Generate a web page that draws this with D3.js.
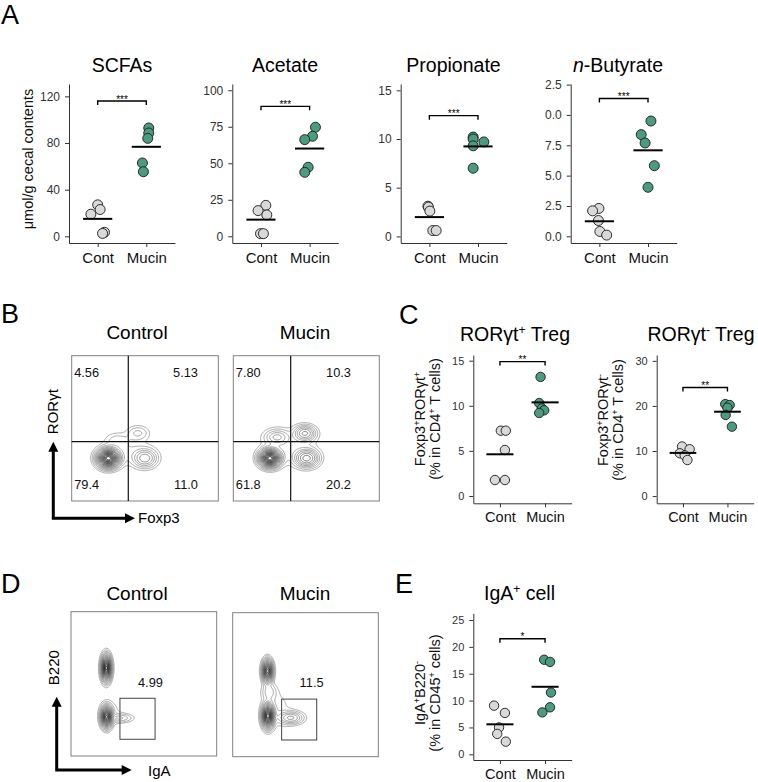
<!DOCTYPE html>
<html><head><meta charset="utf-8">
<script src="https://cdn.jsdelivr.net/npm/d3@7"></script>
<style>
body{margin:0;background:#fff}
svg{display:block}
text{font-family:"Liberation Sans",Arial,Helvetica,sans-serif}
</style>
</head><body>
<svg id="fig" width="758" height="782"></svg>
<script>
// ---------------- DATA ----------------
const groups = ["Cont", "Mucin"];

// Panel A (µmol/g cecal contents)
const scfaCont = [27, 23, 19, 3.5, 2.5];
const scfaMucin = [92.9, 88.6, 84, 62.9, 55.4];
const acetateCont = [21.2, 17.6, 14.6, 1.8, 1.8];
const acetateMucin = [74.7, 68.5, 66.2, 47.3, 43.8];
const propionateCont = [3.1, 3.0, 2.6, 0.6, 0.6];
const propionateMucin = [10.2, 10.0, 9.7, 9.3, 7.0];
const butyrateCont = [2.3, 2.1, 1.3, 0.4, 0.1];
const butyrateMucin = [9.5, 8.38, 7.69, 5.82, 4.04];

// Panel C (% in CD4+ T cells)
const rorPosCont = [7.24, 7.24, 5.1, 1.77, 1.77];
const rorPosMucin = [13.2, 10.3, 9.7, 9.5, 9.2];
const rorNegCont = [11.0, 10.4, 9.5, 9.0, 8.0];
const rorNegMucin = [20.4, 20.2, 19.6, 18.0, 15.4];

// Panel E (% in CD45+ cells)
const igaCont = [9.06, 7.7, 5.0, 3.8, 2.36];
const igaMucin = [17.6, 17.2, 11.5, 8.75, 7.8];

// horizontal jitter of each dot (fraction of category step)
const scfaJitC = [0, 0.05, -0.14, 0.14, 0.10], scfaJitM = [0.05, 0.05, 0.03, -0.08, -0.06];
const acetateJitC = [0.10, -0.06, 0.12, -0.01, 0.05], acetateJitM = [0.12, 0.06, -0.10, -0.03, -0.10];
const propionateJitC = [-0.03, -0.02, 0.01, 0.07, 0.14], propionateJitM = [-0.10, -0.10, 0.12, -0.10, -0.10];
const butyrateJitC = [-0.01, -0.14, -0.02, 0.01, 0.15], butyrateJitM = [0.06, -0.14, -0.06, 0.13, 0];
const rorPosJitC = [0.02, 0.13, 0.11, -0.11, 0.11], rorPosJitM = [-0.10, -0.13, -0.07, -0.02, -0.13];
const rorNegJitC = [-0.02, 0.15, -0.07, 0.04, 0.10], rorNegJitM = [-0.05, 0.05, 0, -0.04, 0.10];
const igaJitC = [-0.13, 0.11, -0.02, -0.06, 0.13], igaJitM = [-0.02, 0.11, 0.13, 0.11, -0.06];

// tick values / labels
const scfaTicks = [0, 40, 80, 120];
const acetateTicks = [0, 25, 50, 75, 100];
const propionateTicks = [0, 5, 10, 15];
const butyrateTicks = [0, 2.5, 5, 7.5, 10, 12.5];
const butyrateTickLabels = ["0.0", "2.5", "5.0", "7.5", "0.0", "2.5"];
const rorPosTicks = [0, 5, 10, 15];
const rorNegTicks = [0, 10, 20, 30];
const igaTicks = [0, 5, 10, 15, 20, 25];

// significance
const sigStars = ["***", "***", "***", "***", "**", "**", "*"];
const bracketLevels = [116, 89, 12.4, 11.35, 14.9, 24.1, 21.5];

// flow cytometry quadrant / gate numbers
const quadControl = ["4.56", "5.13", "79.4", "11.0"];
const quadMucin = ["7.80", "10.3", "61.8", "20.2"];
const gateIgA = ["4.99", "11.5"];

// flow density components (u,v in 0..1 of plot box, sx/sy spread, w weight)
const flowRorControl = [
  {u:0.25, v:0.294, sx:0.040, sy:0.034, w:1},
  {u:0.50, v:0.294, sx:0.046, sy:0.036, w:0.17},
  {u:0.452, v:0.468, sx:0.045, sy:0.030, w:0.05},
  {u:0.31, v:0.42, sx:0.050, sy:0.030, w:0.03},
  {u:0.38, v:0.34, sx:0.11, sy:0.065, w:0.025}
];
const flowRorMucin = [
  {u:0.251, v:0.294, sx:0.038, sy:0.032, w:1},
  {u:0.503, v:0.294, sx:0.045, sy:0.034, w:0.28},
  {u:0.491, v:0.466, sx:0.041, sy:0.030, w:0.2},
  {u:0.298, v:0.44, sx:0.047, sy:0.030, w:0.10},
  {u:0.38, v:0.37, sx:0.12, sy:0.08, w:0.03}
];
const flowIgaControl = [
  {u:0.242, v:0.61, sx:0.018, sy:0.046, w:1},
  {u:0.244, v:0.272, sx:0.020, sy:0.038, w:0.9},
  {u:0.34, v:0.263, sx:0.050, sy:0.018, w:0.07},
  {u:0.27, v:0.30, sx:0.05, sy:0.06, w:0.02}
];
const flowIgaMucin = [
  {u:0.239, v:0.595, sx:0.019, sy:0.040, w:0.85},
  {u:0.242, v:0.283, sx:0.021, sy:0.042, w:1},
  {u:0.40, v:0.27, sx:0.048, sy:0.025, w:0.15},
  {u:0.25, v:0.45, sx:0.030, sy:0.035, w:0.06},
  {u:0.30, v:0.33, sx:0.07, sy:0.09, w:0.02}
];
const quadGate = {control:[0.386, 0.408], mucin:[0.393, 0.408]};
const igaGate = [0.336, 0.577, 0.116, 0.40];

// ---------------- DRAWING ----------------
const svg = d3.select("#fig");
const COLS = {Cont:"#d9d9d9", Mucin:"#4b9b7f"};

function rich(sel, parts) {
  parts.forEach(p => {
    const t = sel.append("tspan").text(p.t);
    if (p.sup) t.attr("baseline-shift", "super").attr("font-size", "62%");
    if (p.it) t.attr("font-style", "italic");
  });
  return sel;
}

function panelLetter(txt, x, y) {
  svg.append("text").attr("x", x).attr("y", y).attr("font-size", 27).attr("fill", "#000").text(txt);
}

function dotPlot(c) {
  const g = svg.append("g");
  const x = d3.scalePoint().domain(groups).range([c.left, c.left + c.width]).padding(0.59);
  const y = d3.scaleLinear().domain(c.domain).range([c.bottom, c.top]);
  const step = x.step();

  const yAx = d3.axisLeft(y).tickValues(c.ticks).tickSize(4).tickPadding(5).tickSizeOuter(0);
  if (c.labels) yAx.tickFormat((d, i) => c.labels[i]);
  const ya = g.append("g").attr("transform", `translate(${c.left},0)`).call(yAx);
  ya.selectAll("text").attr("font-size", c.tickFont).attr("fill", "#333")
    .attr("font-family", '"Liberation Sans",Arial,sans-serif');

  const xa = g.append("g").attr("transform", `translate(0,${c.bottom})`)
    .call(d3.axisBottom(x).tickSize(4).tickPadding(c.catPad).tickSizeOuter(0));
  xa.selectAll("text").attr("font-size", c.catFont).attr("fill", "#111")
    .attr("font-family", '"Liberation Sans",Arial,sans-serif');
  [ya, xa].forEach(a => {
    a.select(".domain").attr("stroke", "#333").attr("stroke-width", 1);
    a.selectAll(".tick line").attr("stroke", "#333").attr("stroke-width", 1);
  });

  // bracket
  const by = y(c.level), x0 = x("Cont"), x1 = x("Mucin");
  g.append("path").attr("d", `M${x0},${by + 4}V${by}H${x1}V${by + 4}`)
    .attr("fill", "none").attr("stroke", "#000").attr("stroke-width", 1.4);
  g.append("text").attr("x", (x0 + x1) / 2).attr("y", by + 1.5).attr("text-anchor", "middle")
    .attr("font-size", 10).text(c.stars);

  // dots
  const sets = [["Cont", c.cont, c.jc], ["Mucin", c.mucin, c.jm]];
  sets.forEach(([grp, vals, jit]) => {
    g.selectAll(null).data(vals).join("circle")
      .attr("cx", (d, i) => x(grp) + jit[i] * step)
      .attr("cy", d => y(d))
      .attr("r", c.r)
      .attr("fill", COLS[grp]).attr("stroke", "#1a1a1a").attr("stroke-width", 0.9);
  });
  // mean lines
  sets.forEach(([grp, vals]) => {
    const m = d3.mean(vals);
    g.append("line").attr("x1", x(grp) - 0.3 * step).attr("x2", x(grp) + 0.3 * step)
      .attr("y1", y(m)).attr("y2", y(m)).attr("stroke", "#000").attr("stroke-width", 2);
  });

  // title
  rich(g.append("text").attr("x", c.titleX).attr("y", c.titleY).attr("text-anchor", "middle")
    .attr("font-size", 19.5).attr("fill", "#000"), c.title);

  // y label
  if (c.ylab) {
    c.ylab.forEach((line, i) => {
      rich(g.append("text").attr("transform", `translate(${c.ylabX[i]},${c.ylabY}) rotate(-90)`)
        .attr("text-anchor", "middle").attr("font-size", 14.5).attr("fill", "#111"), line);
    });
  }
}

// Panel A
panelLetter("A", 1, 24);
const A = {top:84, bottom:243, width:106, tickFont:12, catFont:15, catPad:5, r:5, titleY:72};
dotPlot({...A, left:69, domain:[-5.7, 130.6], ticks:scfaTicks, cont:scfaCont, mucin:scfaMucin,
  jc:scfaJitC, jm:scfaJitM, stars:sigStars[0], level:bracketLevels[0], title:[{t:"SCFAs"}], titleX:122,
  ylab:[[{t:"μmol/g cecal contents"}]], ylabX:[33], ylabY:159});
dotPlot({...A, left:232.3, domain:[-4.6, 104.3], ticks:acetateTicks, cont:acetateCont, mucin:acetateMucin,
  jc:acetateJitC, jm:acetateJitM, stars:sigStars[1], level:bracketLevels[1], title:[{t:"Acetate"}], titleX:285});
dotPlot({...A, left:400.7, domain:[-0.68, 15.65], ticks:propionateTicks, cont:propionateCont, mucin:propionateMucin,
  jc:propionateJitC, jm:propionateJitM, stars:sigStars[2], level:bracketLevels[2], title:[{t:"Propionate"}], titleX:453.5});
dotPlot({...A, left:570.7, domain:[-0.55, 12.55], ticks:butyrateTicks, labels:butyrateTickLabels,
  cont:butyrateCont, mucin:butyrateMucin, jc:butyrateJitC, jm:butyrateJitM, stars:sigStars[3], level:bracketLevels[3],
  title:[{t:"n", it:true}, {t:"-Butyrate"}], titleX:618});

// Panel C
panelLetter("C", 399, 324);
const C = {top:355, bottom:503.3, tickFont:11, catFont:14.5, catPad:4, r:4.7, titleY:340.5};
dotPlot({...C, left:473.3, width:98.4, domain:[-0.81, 15.63], ticks:rorPosTicks, cont:rorPosCont, mucin:rorPosMucin,
  jc:rorPosJitC, jm:rorPosJitM, stars:sigStars[4], level:bracketLevels[4],
  title:[{t:"RORγt"}, {t:"+", sup:true}, {t:" Treg"}], titleX:515,
  ylab:[[{t:"Foxp3"}, {t:"+", sup:true}, {t:"RORγt"}, {t:"+", sup:true}],
        [{t:"(% in CD4"}, {t:"+", sup:true}, {t:" T cells)"}]], ylabX:[424.5, 439.5], ylabY:419});
dotPlot({...C, left:656.7, width:97, domain:[-1.6, 31.3], ticks:rorNegTicks, cont:rorNegCont, mucin:rorNegMucin,
  jc:rorNegJitC, jm:rorNegJitM, stars:sigStars[5], level:bracketLevels[5],
  title:[{t:"RORγt"}, {t:"-", sup:true}, {t:" Treg"}], titleX:701,
  ylab:[[{t:"Foxp3"}, {t:"+", sup:true}, {t:"RORγt"}, {t:"-", sup:true}],
        [{t:"(% in CD4"}, {t:"+", sup:true}, {t:" T cells)"}]], ylabX:[607.5, 622.5], ylabY:420});

// Panel E
panelLetter("E", 395, 593);
dotPlot({top:613.3, bottom:760, tickFont:11, catFont:14.5, catPad:5, r:4.7, titleY:600,
  left:473.3, width:98.4, domain:[-1.06, 26.25], ticks:igaTicks, cont:igaCont, mucin:igaMucin,
  jc:igaJitC, jm:igaJitM, stars:sigStars[6], level:bracketLevels[6],
  title:[{t:"IgA"}, {t:"+", sup:true}, {t:" cell"}], titleX:519.5,
  ylab:[[{t:"IgA"}, {t:"+", sup:true}, {t:"B220"}, {t:"-", sup:true}],
        [{t:"(% in CD45"}, {t:"+", sup:true}, {t:" cells)"}]], ylabX:[425, 440], ylabY:693});

// ---------- flow plots ----------
const N = 180;
const levels = [0.012, 0.025, 0.045, 0.07, 0.1, 0.14, 0.19, 0.25, 0.32, 0.4, 0.48, 0.56, 0.64, 0.72, 0.8, 0.88, 0.95];
const lineCol = d3.scaleLinear().domain([0.012, 0.3, 0.95]).range(["#9a9a9a", "#555", "#1c1c1c"]);

function flowPlot(box, comps) {
  const g = svg.append("g");
  const fx = d3.scaleLinear().domain([0, 1]).range([box[0], box[2]]);
  const fy = d3.scaleLinear().domain([0, 1]).range([box[3], box[1]]);
  const vals = new Float64Array(N * N);
  for (let j = 0; j < N; j++) for (let i = 0; i < N; i++) {
    const u = (i + 0.5) / N, v = 1 - (j + 0.5) / N;
    let s = 0;
    comps.forEach(c => { s += c.w * Math.exp(-((u - c.u) ** 2) / (2 * c.sx * c.sx) - ((v - c.v) ** 2) / (2 * c.sy * c.sy)); });
    vals[i + j * N] = s;
  }
  const conts = d3.contours().size([N, N]).thresholds(levels)(vals);
  const path = d3.geoPath(d3.geoTransform({point(px, py) { this.stream.point(fx(px / N), fy(1 - py / N)); }}));
  g.selectAll("path.c").data(conts).join("path").attr("class", "c")
    .attr("d", path).attr("fill", "none")
    .attr("stroke", d => lineCol(d.value)).attr("stroke-width", 0.85);
  g.append("rect").attr("x", box[0]).attr("y", box[1]).attr("width", box[2] - box[0]).attr("height", box[3] - box[1])
    .attr("fill", "none").attr("stroke", "#808080").attr("stroke-width", 1);
  return {g, fx, fy};
}

function arrows(cx, cy, tipY, tipX) {
  const g = svg.append("g");
  g.append("path").attr("d", `M${cx},${tipY + 8}V${cy}H${tipX - 8}`)
    .attr("fill", "none").attr("stroke", "#000").attr("stroke-width", 3);
  g.append("path").attr("d", `M${cx},${tipY}L${cx - 5},${tipY + 10}L${cx + 5},${tipY + 10}Z`).attr("fill", "#000");
  g.append("path").attr("d", `M${tipX},${cy}L${tipX - 10},${cy - 5}L${tipX - 10},${cy + 5}Z`).attr("fill", "#000");
}

function numText(x, y, t, anchor) {
  svg.append("text").attr("x", x).attr("y", y).attr("text-anchor", anchor || "start")
    .attr("font-family", '"DejaVu Sans",Verdana,sans-serif').attr("font-size", 12.8).attr("fill", "#111").text(t);
}

// Panel B
panelLetter("B", 1, 323);
[["Control", 137], ["Mucin", 305]].forEach(([t, x]) =>
  svg.append("text").attr("x", x).attr("y", 339).attr("text-anchor", "middle").attr("font-size", 19).text(t));
const bBoxes = [[71.7, 355.7, 218.3, 501], [233.3, 355.7, 379.3, 501]];
[[bBoxes[0], flowRorControl, quadGate.control, quadControl, 198], [bBoxes[1], flowRorMucin, quadGate.mucin, quadMucin, 351]]
.forEach(([box, comps, q, nums, rx]) => {
  const {g, fx, fy} = flowPlot(box, comps);
  g.append("line").attr("x1", fx(q[0])).attr("x2", fx(q[0])).attr("y1", fy(0)).attr("y2", fy(1))
    .attr("stroke", "#111").attr("stroke-width", 1.2);
  g.append("line").attr("x1", fx(0)).attr("x2", fx(1)).attr("y1", fy(q[1])).attr("y2", fy(q[1]))
    .attr("stroke", "#111").attr("stroke-width", 1.2);
  numText(box[0] + 2.5, 377, nums[0]);
  numText(rx, 377, nums[1], "end");
  numText(box[0] + 2.5, 489, nums[2]);
  numText(rx, 489, nums[3], "end");
});
arrows(53.3, 518.3, 441.7, 135);
svg.append("text").attr("transform", "translate(57.5,411.7) rotate(-90)").attr("text-anchor", "middle")
  .attr("font-size", 15).text("RORγt");
svg.append("text").attr("x", 138).attr("y", 522.5).attr("font-size", 15).text("Foxp3");

// Panel D
panelLetter("D", 1, 593);
[["Control", 137], ["Mucin", 305]].forEach(([t, x]) =>
  svg.append("text").attr("x", x).attr("y", 600).attr("text-anchor", "middle").attr("font-size", 19).text(t));
const dBoxes = [[71, 611.7, 216.7, 756], [232.7, 612.7, 378.3, 756.7]];
[[dBoxes[0], flowIgaControl, gateIgA[0]], [dBoxes[1], flowIgaMucin, gateIgA[1]]].forEach(([box, comps, num]) => {
  const {g, fx, fy} = flowPlot(box, comps);
  g.append("rect").attr("x", fx(igaGate[0])).attr("y", fy(igaGate[3]))
    .attr("width", fx(igaGate[1]) - fx(igaGate[0])).attr("height", fy(igaGate[2]) - fy(igaGate[3]))
    .attr("fill", "none").attr("stroke", "#444").attr("stroke-width", 1);
  numText(fx(igaGate[0]) + 18, 686.5, num);
});
arrows(56.7, 770, 696.7, 131.7);
svg.append("text").attr("transform", "translate(58.5,667.7) rotate(-90)").attr("text-anchor", "middle")
  .attr("font-size", 15).text("B220");
svg.append("text").attr("x", 148).attr("y", 775.5).attr("font-size", 15).text("IgA");
</script>
</body></html>
